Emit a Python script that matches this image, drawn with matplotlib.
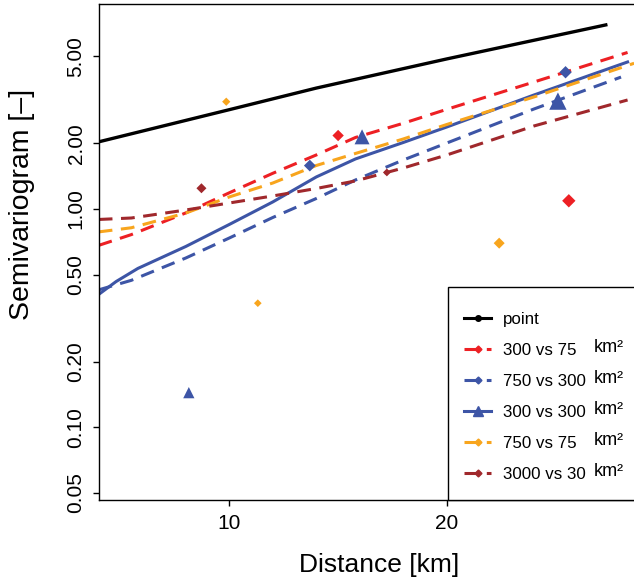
import matplotlib
matplotlib.use("Agg")
import matplotlib.pyplot as plt
from matplotlib.lines import Line2D
from matplotlib.patches import Rectangle
from matplotlib.transforms import blended_transform_factory, IdentityTransform

plt.rcParams['font.family'] = ['Liberation Sans', 'DejaVu Sans']

# model curves
grid_x = [4.0, 5.5, 8.0, 10.0, 12.0, 14.0, 15.8, 18.0, 20.0, 24.0, 28.3]

point_x = [4.0, 10.0, 14.0, 20.0, 27.3]
point_y = [2.03, 2.85, 3.58, 4.87, 6.97]

r300_75_y = [0.681, 0.763, 0.959, 1.186, 1.457, 1.768, 2.126, 2.470, 2.862, 3.817, 5.212]

o750_75_x = [4.0, 5.5, 8.0, 10.0, 12.0, 14.0, 15.8, 18.0, 20.0, 24.0, 28.6]
o750_75_y = [0.785, 0.820, 0.958, 1.135, 1.315, 1.582, 1.796, 2.093, 2.439, 3.260, 4.65]

b300_300_x = [4.0, 4.8, 5.8, 8.0, 10.0, 12.0, 14.0, 15.8, 18.0, 20.0, 24.0, 28.3]
b300_300_y = [0.406, 0.465, 0.534, 0.673, 0.849, 1.077, 1.402, 1.695, 2.017, 2.375, 3.328, 4.714]

b750_300_x = [4.0, 5.5, 8.0, 10.0, 12.0, 14.0, 15.8, 18.0, 20.0, 24.0, 28.0]
b750_300_y = [0.426, 0.471, 0.596, 0.736, 0.914, 1.117, 1.358, 1.677, 2.006, 2.871, 4.02]

d3000_30_y = [0.895, 0.909, 0.989, 1.065, 1.147, 1.241, 1.344, 1.541, 1.768, 2.400, 3.157]

# empirical points (size ~ number of pairs)
r_pts_x, r_pts_y, r_pts_s = [15.0, 25.6], [2.17, 1.09], [5.8, 6.8]
bd_pts_x, bd_pts_y, bd_pts_s = [13.7, 25.45], [1.58, 4.23], [6.0, 6.3]
bt_pts_x, bt_pts_y, bt_pts_s = [8.14, 16.1, 25.1], [0.144, 2.14, 3.12], [8.1, 10.8, 12.5]
o_pts_x, o_pts_y, o_pts_s = [9.86, 11.31, 22.4], [3.10, 0.370, 0.697], [4.2, 3.9, 5.6]
d_pts_x, d_pts_y, d_pts_s = [8.72, 17.24], [1.244, 1.47], [5.1, 4.0]

labels = ['point', '300 vs 75', '750 vs 300', '300 vs 300', '750 vs 75', '3000 vs 30']
yticks = [0.05, 0.10, 0.20, 0.50, 1.00, 2.00, 5.00]

RED = '#ED2024'
BLUE = '#3D55A6'
ORANGE = '#F8A51D'
DRED = '#A0282C'
DASH = (0, (4.5, 2.8))

fig = plt.figure(figsize=(6.34, 5.81), dpi=100)
ax = fig.add_axes([98.5 / 634, 81 / 581, 561.5 / 634, 496 / 581])

lw = 2.2
ax.plot(point_x, point_y, color='black', lw=2.4)
ax.plot(grid_x, r300_75_y, color=RED, lw=lw, ls=DASH)
ax.plot(b750_300_x, b750_300_y, color=BLUE, lw=lw, ls=DASH)
ax.plot(b300_300_x, b300_300_y, color=BLUE, lw=lw)
ax.plot(o750_75_x, o750_75_y, color=ORANGE, lw=lw, ls=DASH)
ax.plot(grid_x, d3000_30_y, color=DRED, lw=lw, ls=DASH)

ax.scatter(r_pts_x, r_pts_y, s=[v ** 2 for v in r_pts_s], marker='D', color=RED, lw=0, zorder=3)
ax.scatter(bd_pts_x, bd_pts_y, s=[v ** 2 for v in bd_pts_s], marker='D', color=BLUE, lw=0, zorder=3)
ax.scatter(bt_pts_x, bt_pts_y, s=[v ** 2 for v in bt_pts_s], marker='^', color=BLUE, lw=0, zorder=3)
ax.scatter(o_pts_x, o_pts_y, s=[v ** 2 for v in o_pts_s], marker='D', color=ORANGE, lw=0, zorder=3)
ax.scatter(d_pts_x, d_pts_y, s=[v ** 2 for v in d_pts_s], marker='D', color=DRED, lw=0, zorder=3)

ax.set_yscale('log')
ax.set_xlim(3.99, 29.79)
ax.set_ylim(0.0464, 8.69)
ax.set_yticks(yticks)
ax.set_yticklabels(['%.2f' % v for v in yticks])
ax.yaxis.set_minor_locator(matplotlib.ticker.NullLocator())
ax.set_xticks([10, 20])
ax.tick_params(axis='both', direction='out', length=4.3, width=1, labelsize=15)
ax.tick_params(axis='y', labelrotation=90, pad=5)
ax.tick_params(axis='x', pad=6)
plt.setp(ax.get_yticklabels(), va='center')
for sp in ax.spines.values():
    sp.set_linewidth(1)
ax.spines['right'].set_visible(False)

ax.set_xlabel('Distance [km]', fontsize=19, va='center')
ax.xaxis.set_label_coords(0.5, -0.131)
ax.set_ylabel('Semivariogram [–]', fontsize=20.5, va='center')
ax.yaxis.set_label_coords(-0.136, 0.596)

# legend box
ax.add_patch(Rectangle((0.6233, 0.0), 0.5, 0.4294, transform=ax.transAxes,
                       facecolor='white', edgecolor='black', lw=1, zorder=4, clip_on=False))
handles = [
    Line2D([], [], color='black', lw=2.2, marker='o', ms=4),
    Line2D([], [], color=RED, lw=lw, ls=DASH, marker='D', ms=3.5),
    Line2D([], [], color=BLUE, lw=lw, ls=DASH, marker='D', ms=3.5),
    Line2D([], [], color=BLUE, lw=lw, marker='^', ms=7),
    Line2D([], [], color=ORANGE, lw=lw, ls=DASH, marker='D', ms=3.5),
    Line2D([], [], color=DRED, lw=lw, ls=DASH, marker='D', ms=3.5),
]
leg = ax.legend(handles, labels, loc='upper left', bbox_to_anchor=(0.6518, 0.380),
                frameon=False, fontsize=12.2, handlelength=1.56, handletextpad=0.7,
                labelspacing=0.95, borderpad=0, borderaxespad=0, numpoints=1)
leg.set_zorder(5)

fig.canvas.draw()
trans = blended_transform_factory(ax.transAxes, IdentityTransform())
for t in leg.get_texts()[1:]:
    bb = t.get_window_extent()
    ax.text(0.8826, (bb.y0 + bb.y1) / 2 + 3, 'km²', transform=trans, fontsize=13,
            va='center', ha='left', zorder=6)

fig.savefig('out.png', dpi=100)
